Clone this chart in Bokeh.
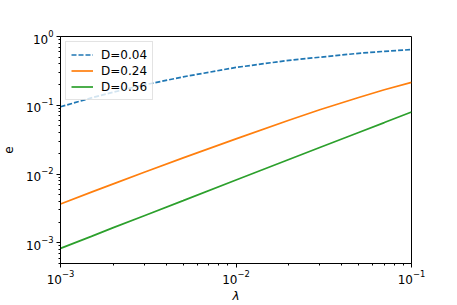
from bokeh.plotting import figure
from bokeh.models import Range1d, FixedTicker, LogTickFormatter
from bokeh.embed import file_html
from bokeh.resources import INLINE

# data
lam = [0.001, 0.0015, 0.002, 0.003, 0.005, 0.01, 0.02, 0.03, 0.05, 0.07, 0.1]
e_d004 = [0.095, 0.128, 0.155, 0.198, 0.259, 0.355, 0.45, 0.50, 0.57, 0.608, 0.645]
e_d024 = [0.00367, 0.00545, 0.0072, 0.0106, 0.0172, 0.0325, 0.0606, 0.086, 0.1296, 0.168, 0.215]
e_d056 = [0.00083, 0.00124, 0.00166, 0.00248, 0.0041, 0.0082, 0.0163, 0.0243, 0.0402, 0.056, 0.080]
labels = ["D=0.04", "D=0.24", "D=0.56"]

x_major = [1e-3, 1e-2, 1e-1]
x_minor = [k * 10.0 ** d for d in (-3, -2) for k in range(2, 10)]
y_major = [1e-3, 1e-2, 1e-1, 1e0]
y_minor = [k * 10.0 ** d for d in (-4, -3, -2, -1) for k in range(2, 10) if 5e-4 <= k * 10.0 ** d <= 1]

FONT = "DejaVu Sans"

p = figure(width=457, height=305, x_axis_type="log", y_axis_type="log",
           x_range=Range1d(1e-3, 1e-1), y_range=Range1d(5e-4, 1.0),
           output_backend="svg", toolbar_location=None,
           min_border_left=57, min_border_top=36, min_border_right=46, min_border_bottom=38)

p.line(lam, e_d004, line_color="#1f77b4", line_width=1.7, line_dash="5 2", legend_label=labels[0])
p.line(lam, e_d024, line_color="#ff7f0e", line_width=1.7, legend_label=labels[1])
p.line(lam, e_d056, line_color="#2ca02c", line_width=1.7, legend_label=labels[2])

p.xgrid.visible = False
p.ygrid.visible = False
p.outline_line_color = "black"
p.outline_line_width = 1

p.xaxis.ticker = FixedTicker(ticks=x_major, minor_ticks=x_minor)
p.yaxis.ticker = FixedTicker(ticks=y_major, minor_ticks=y_minor)
for ax in (p.xaxis, p.yaxis):
    ax.formatter = LogTickFormatter()
    ax.axis_line_color = "black"
    ax.major_tick_line_color = "black"
    ax.minor_tick_line_color = "black"
    ax.major_tick_out = 4
    ax.major_tick_in = 0
    ax.minor_tick_out = 2
    ax.minor_tick_in = 0
    ax.major_label_text_font = FONT
    ax.major_label_text_font_size = "12px"
    ax.major_label_text_color = "black"
    ax.axis_label_text_font = FONT
    ax.axis_label_text_font_size = "12px"
    ax.axis_label_text_color = "black"

p.xaxis.axis_label = "λ"
p.xaxis.axis_label_text_font_style = "italic"
p.xaxis.major_label_standoff = 2
p.xaxis.axis_label_standoff = 2
p.yaxis.axis_label = "e"
p.yaxis.axis_label_text_font_style = "normal"
p.yaxis.major_label_standoff = 3
p.yaxis.axis_label_standoff = 10

lg = p.legend[0]
lg.location = "top_left"
lg.margin = 5
lg.padding = 5
lg.spacing = 1
lg.glyph_width = 22
lg.glyph_height = 15
lg.label_height = 15
lg.label_standoff = 8
lg.label_text_font = FONT
lg.label_text_font_size = "12px"
lg.label_text_color = "black"
lg.border_line_color = "#c8c8c8"
lg.border_line_width = 1
lg.background_fill_alpha = 0.8

open("out.html", "w").write(file_html(p, INLINE))
